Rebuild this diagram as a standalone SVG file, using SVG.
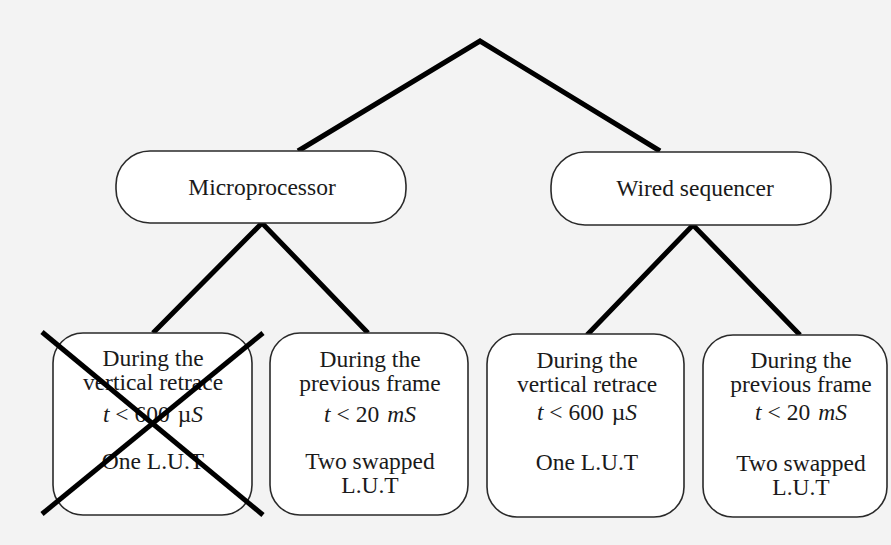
<svg xmlns="http://www.w3.org/2000/svg" width="891" height="545" viewBox="0 0 891 545">
<style>
.box{fill:#ffffff;stroke:#2a2a2a;stroke-width:1.6}
.t{font-family:"Liberation Serif","Times New Roman",serif;font-size:23.5px;fill:#1a1a1a;text-anchor:middle}
.i{font-style:italic}
.c{stroke:#000;stroke-width:5;fill:none;stroke-linecap:butt;stroke-linejoin:miter}
</style>
<rect x="0" y="0" width="891" height="545" fill="#f3f3f3"/>
<g id="connectors">
<polyline class="c" points="298,151 480,41 660,151"/>
<polyline class="c" points="153,333 262,223 368,333"/>
<polyline class="c" points="587,335 693,225 800,335"/>
</g>
<g id="microprocessor">
<rect class="box" x="116" y="151" width="290" height="72" rx="34" ry="34"/>
<text class="t" x="262" y="195">Microprocessor</text>
</g>
<g id="wired-sequencer">
<rect class="box" x="551" y="152" width="280" height="73" rx="34" ry="34"/>
<text class="t" x="695" y="196">Wired sequencer</text>
</g>
<g id="mp-vertical-retrace">
<rect class="box" x="53" y="333" width="199" height="182" rx="30" ry="30"/>
<text class="t" x="153" y="366">During the</text>
<text class="t" x="153" y="390">vertical retrace</text>
<text class="t" x="153" y="422"><tspan class="i">t</tspan> &lt; 600<tspan dx="8">µ</tspan><tspan class="i">S</tspan></text>
<text class="t" x="153" y="469">One L.U.T</text>
<line x1="42" y1="332" x2="263" y2="515" stroke="#000" stroke-width="5"/>
<line x1="263" y1="333" x2="42" y2="514" stroke="#000" stroke-width="5"/>
</g>
<g id="mp-previous-frame">
<rect class="box" x="270" y="333" width="198" height="182" rx="30" ry="30"/>
<text class="t" x="370" y="367">During the</text>
<text class="t" x="370" y="391">previous frame</text>
<text class="t" x="370" y="422"><tspan class="i">t</tspan> &lt; 20<tspan class="i" dx="8">mS</tspan></text>
<text class="t" x="370" y="469">Two swapped</text>
<text class="t" x="370" y="493">L.U.T</text>
</g>
<g id="ws-vertical-retrace">
<rect class="box" x="487" y="334" width="197" height="183" rx="30" ry="30"/>
<text class="t" x="587" y="368">During the</text>
<text class="t" x="587" y="392">vertical retrace</text>
<text class="t" x="587" y="420"><tspan class="i">t</tspan> &lt; 600<tspan dx="8">µ</tspan><tspan class="i">S</tspan></text>
<text class="t" x="587" y="470">One L.U.T</text>
</g>
<g id="ws-previous-frame">
<rect class="box" x="703" y="335" width="184" height="182" rx="30" ry="30"/>
<text class="t" x="801" y="368">During the</text>
<text class="t" x="801" y="392">previous frame</text>
<text class="t" x="801" y="420"><tspan class="i">t</tspan> &lt; 20<tspan class="i" dx="8">mS</tspan></text>
<text class="t" x="801" y="471">Two swapped</text>
<text class="t" x="801" y="495">L.U.T</text>
</g>
</svg>
